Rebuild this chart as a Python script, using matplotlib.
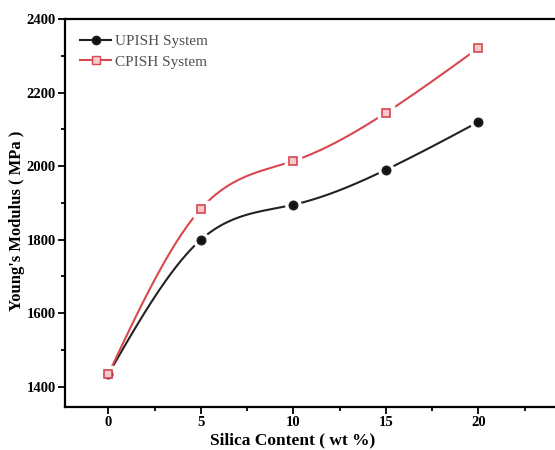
import numpy as np
import matplotlib
matplotlib.use("Agg")
import matplotlib.pyplot as plt
from matplotlib.lines import Line2D
from matplotlib.ticker import MultipleLocator, FixedLocator

silica = [0, 5, 10, 15, 20]
upish = [1435, 1800, 1895, 1990, 2120]
cpish = [1435, 1884, 2014, 2145, 2321]
labels = ["UPISH System", "CPISH System"]

plt.rcParams['font.family'] = ['Liberation Serif', 'DejaVu Serif']


def natural_spline(x, y, n=200):
    x = np.asarray(x, float); y = np.asarray(y, float)
    k = len(x); h = np.diff(x)
    A = np.zeros((k, k)); b = np.zeros(k)
    A[0, 0] = A[-1, -1] = 1
    for i in range(1, k - 1):
        A[i, i - 1] = h[i - 1]; A[i, i] = 2 * (h[i - 1] + h[i]); A[i, i + 1] = h[i]
        b[i] = 3 * ((y[i + 1] - y[i]) / h[i] - (y[i] - y[i - 1]) / h[i - 1])
    c = np.linalg.solve(A, b)
    xs = np.linspace(x[0], x[-1], n)
    idx = np.clip(np.searchsorted(x, xs) - 1, 0, k - 2)
    dx = xs - x[idx]
    bb = (y[idx + 1] - y[idx]) / h[idx] - h[idx] * (2 * c[idx] + c[idx + 1]) / 3
    d = (c[idx + 1] - c[idx]) / (3 * h[idx])
    ys = y[idx] + bb * dx + c[idx] * dx ** 2 + d * dx ** 3
    return xs, ys


fig = plt.figure(figsize=(5.55, 4.5), dpi=100)
ax = fig.add_axes([65 / 555, 43 / 450, 516 / 555, 388 / 450])

red = '#d9474f'
for ys, col, mk, mfc, lab in [(upish, '#222222', 'o', '#111111', labels[0]),
                              (cpish, red, 's', '#f6c9cc', labels[1])]:
    xs, yy = natural_spline(silica, ys)
    ax.plot(xs, yy, color=col, lw=1.5, zorder=2)
    ax.plot(silica, ys, ls='none', marker=mk, ms=11, mfc='white', mec='white', zorder=3)
    ax.plot(silica, ys, ls='none', marker=mk, ms=6, mfc=mfc, mec=col, mew=1.2, zorder=4)

handles = [Line2D([], [], color='#222222', lw=1.5, marker='o', ms=6, mfc='#111111', mec='#222222'),
           Line2D([], [], color=red, lw=1.5, marker='s', ms=6, mfc='#f6c9cc', mec=red)]
leg = ax.legend(handles, labels, loc='upper left', frameon=False, fontsize=11,
                handlelength=2.0, handletextpad=0.3, borderaxespad=0.6, labelspacing=0.45,
                bbox_to_anchor=(0.0, 1.0))
for t in leg.get_texts():
    t.set_color('#505050')

ax.set_xlim(-2.35, 25.55)
ax.set_ylim(1345, 2400)
ax.xaxis.set_major_locator(FixedLocator([0, 5, 10, 15, 20]))
ax.xaxis.set_minor_locator(FixedLocator([2.5, 7.5, 12.5, 17.5, 22.5]))
ax.yaxis.set_major_locator(MultipleLocator(200))
ax.yaxis.set_minor_locator(MultipleLocator(100))
ax.tick_params(which='both', direction='out', width=1.3, top=False, right=False)
ax.tick_params(which='major', length=5, labelsize=10.5, pad=1.5)
ax.tick_params(which='minor', length=3)
for lbl in ax.get_xticklabels() + ax.get_yticklabels():
    lbl.set_fontweight('bold')
for s in ax.spines.values():
    s.set_linewidth(1.6)

fig.text(293 / 555, 1 - 440 / 450, 'Silica Content ( wt %)', fontsize=12.5,
         fontweight='bold', ha='center', va='center')
fig.text(17 / 555, 1 - 221 / 450, "Young's Modulus ( MPa )", fontsize=12,
         fontweight='bold', ha='center', va='center', rotation=90)

fig.savefig('out.png', dpi=100)
